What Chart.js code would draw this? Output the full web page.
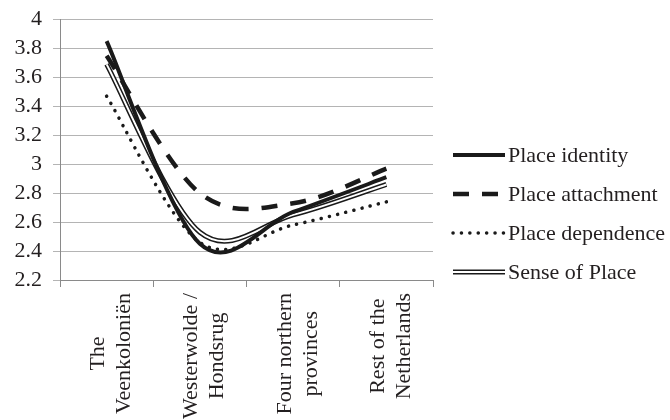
<!DOCTYPE html>
<html>
<head>
<meta charset="utf-8">
<script src="https://cdn.jsdelivr.net/npm/chart.js@4"></script>
<style>
  html, body { margin: 0; padding: 0; background: #fff; }
  #wrap { width: 670px; height: 420px; }
</style>
</head>
<body>
<div id="wrap"><canvas id="chart" width="670" height="420"></canvas></div>
<script>
const categories = [
    ['The', 'Veenkoloniën'],
    ['Westerwolde /', 'Hondsrug'],
    ['Four northern', 'provinces'],
    ['Rest of the', 'Netherlands']
];
const placeIdentity = [3.85, 2.45, 2.67, 2.91];
const placeAttachment = [3.75, 2.80, 2.73, 2.97];
const placeDependence = [3.47, 2.46, 2.58, 2.74];
const senseOfPlace = [3.69, 2.53, 2.65, 2.86];
const seriesNames = ['Place identity', 'Place attachment', 'Place dependence', 'Sense of Place'];

const FONT_FAMILY = '"Liberation Serif", "Times New Roman", serif';
const FONT_SIZE = 22;
const TEXT = '#231f20';
const INK = '#1a1a1a';
const GRID = '#b4b4b4';
const AXIS = '#8a8a8a';

Chart.defaults.font.family = FONT_FAMILY;
Chart.defaults.font.size = FONT_SIZE;
Chart.defaults.color = TEXT;

// spreadsheet-style smoothing: uniform catmull-rom control points
const smoothLines = {
    id: 'smoothLines',
    beforeDatasetsDraw(chart) {
        chart.getSortedVisibleDatasetMetas().forEach(meta => {
            const line = meta.dataset;
            line.updateControlPoints(chart.chartArea, 'x');
            const pts = meta.data;
            pts.forEach((p, i) => {
                const prev = pts[i - 1] || p;
                const next = pts[i + 1] || p;
                const dx = (next.x - prev.x) / 6;
                const dy = (next.y - prev.y) / 6;
                p.cp1x = p.x - dx;
                p.cp1y = p.y - dy;
                p.cp2x = p.x + dx;
                p.cp2y = p.y + dy;
            });
            delete line._path;
        });
    }
};

// x labels centred line by line, like the original
const xLabels = {
    id: 'xLabels',
    afterDraw(chart) {
        const { ctx } = chart;
        const x = chart.scales.x;
        ctx.save();
        ctx.font = `${FONT_SIZE}px ${FONT_FAMILY}`;
        ctx.fillStyle = TEXT;
        ctx.textAlign = 'center';
        ctx.textBaseline = 'alphabetic';
        x.getLabels().forEach((lines, i) => {
            const px = x.getPixelForValue(i);
            const w = Math.max(...lines.map(l => ctx.measureText(l).width));
            ctx.save();
            ctx.translate(px, x.top + 13 + w / 2);
            ctx.rotate(-Math.PI / 2);
            lines.forEach((l, j) => {
                ctx.fillText(l, 0, (j - (lines.length - 1) / 2) * 26 + 10.5);
            });
            ctx.restore();
        });
        ctx.restore();
    }
};

// legend with line samples (double line for Sense of Place)
const lineLegend = {
    id: 'lineLegend',
    afterDraw(chart) {
        const { ctx } = chart;
        const rows = chart.data.datasets.filter(d => !d.overlay);
        const left = chart.chartArea.right + 20;
        const mid = chart.height / 2 + 3.5;
        ctx.save();
        ctx.font = `${FONT_SIZE}px ${FONT_FAMILY}`;
        ctx.textBaseline = 'middle';
        rows.forEach((ds, i) => {
            const y = mid + (i - (rows.length - 1) / 2) * 39;
            const strokes = [ds];
            if (ds.inner) strokes.push(ds.inner);
            strokes.forEach(s => {
                ctx.beginPath();
                ctx.lineWidth = s.borderWidth;
                ctx.strokeStyle = s.borderColor;
                ctx.setLineDash(s.borderDash || []);
                ctx.lineCap = s.borderCapStyle || 'butt';
                ctx.moveTo(left, y);
                ctx.lineTo(left + 52, y);
                ctx.stroke();
            });
            ctx.setLineDash([]);
            ctx.fillStyle = TEXT;
            ctx.fillText(ds.label, left + 55, y + 1);
        });
        ctx.restore();
    }
};

const senseInner = {
    label: 'Sense of Place (inner)',
    overlay: true,
    data: senseOfPlace,
    borderColor: '#ffffff',
    borderWidth: 2,
    order: 3
};

const common = { pointRadius: 0, tension: 0.4, fill: false, borderJoinStyle: 'round' };

new Chart(document.getElementById('chart'), {
    type: 'line',
    data: {
        labels: categories,
        datasets: [
            { ...common, label: seriesNames[0], data: placeIdentity, borderColor: INK, borderWidth: 4, order: 0 },
            { ...common, label: seriesNames[1], data: placeAttachment, borderColor: INK, borderWidth: 4.5, borderDash: [16, 13], order: 1 },
            { ...common, label: seriesNames[2], data: placeDependence, borderColor: INK, borderWidth: 3.5, borderDash: [0.1, 8.3], borderCapStyle: 'round', order: 2 },
            { ...common, label: seriesNames[3], data: senseOfPlace, borderColor: INK, borderWidth: 5, order: 4, inner: senseInner },
            { ...common, ...senseInner }
        ]
    },
    options: {
        responsive: false,
        animation: false,
        layout: { padding: { top: 19.5, right: 237, bottom: 0, left: 0 } },
        plugins: { legend: { display: false }, tooltip: { enabled: false } },
        scales: {
            x: {
                offset: true,
                grid: { offset: true, drawOnChartArea: false, drawTicks: true, tickLength: 7, color: AXIS },
                border: { color: AXIS, width: 1 },
                ticks: { display: false },
                afterFit: s => { s.height = 140; }
            },
            y: {
                min: 2.2,
                max: 4,
                grid: { color: GRID, tickLength: 7 },
                border: { color: AXIS, width: 1 },
                ticks: { stepSize: 0.2, padding: 11, autoSkip: false, callback: v => String(+v.toFixed(1)) },
                afterFit: s => { s.width = 60; s.paddingTop = 0; s.paddingBottom = 0; }
            }
        }
    },
    plugins: [smoothLines, xLabels, lineLegend]
});
</script>
</body>
</html>
